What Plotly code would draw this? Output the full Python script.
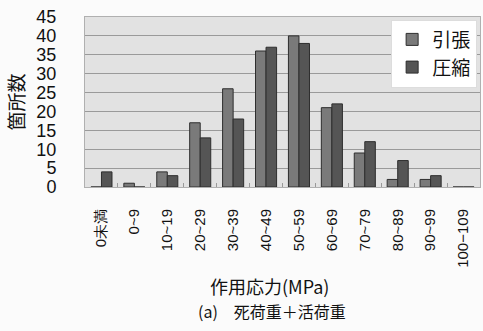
import plotly.graph_objects as go

categories = ["0未満", "0~9", "10~19", "20~29", "30~39", "40~49", "50~59",
              "60~69", "70~79", "80~89", "90~99", "100−109"]
tension = [0, 1, 4, 17, 26, 36, 40, 21, 9, 2, 2, 0]
compression = [4, 0, 3, 13, 18, 37, 38, 22, 12, 7, 3, 0]
y_ticks = [0, 5, 10, 15, 20, 25, 30, 35, 40, 45]

JP = "Noto Sans CJK JP"
NUM = "Liberation Sans Narrow, Liberation Sans"

fig = go.Figure()
fig.add_trace(go.Bar(name="引張", x=categories, y=tension,
                     marker=dict(color="#7a7a7a", line=dict(color="#2e2e2e", width=1))))
fig.add_trace(go.Bar(name="圧縮", x=categories, y=compression,
                     marker=dict(color="#555555", line=dict(color="#2e2e2e", width=1))))

fig.update_layout(
    width=483, height=331,
    margin=dict(l=85, r=3, t=17, b=144),
    paper_bgcolor="#fbfbfb",
    plot_bgcolor="#e2e2e2",
    barmode="group",
    bargap=0.36,
    bargroupgap=0,
    showlegend=True,
    legend=dict(x=0.775, y=0.985, xanchor="left", yanchor="top",
                bgcolor="#ffffff", bordercolor="#dddddd", borderwidth=1,
                font=dict(family=JP, size=19, color="#111111"),
                itemwidth=30, tracegroupgap=0),
    font=dict(family=JP, color="#111111"),
)
fig.update_yaxes(range=[0, 45], tickvals=y_ticks, showgrid=True, automargin=False,
                 gridcolor="#9a9a9a", gridwidth=1,
                 tickfont=dict(family=NUM, size=18, color="#111111"),
                 ticklabelstandoff=24,
                 showline=True, linecolor="#b0b0b0", mirror=True, zeroline=False,
                 title=dict(text="箇所数", font=dict(family=JP, size=19, color="#111111"),
                            standoff=6))
fig.update_xaxes(tickangle=-90, automargin=False,
                 tickfont=dict(family=NUM, size=15, color="#111111"),
                 ticks="inside", tickson="boundaries", ticklen=4, tickcolor="#999999",
                 ticklabelstandoff=15,
                 showline=True, linecolor="#b0b0b0", mirror=True)

fig.add_annotation(text="作用応力(MPa)", xref="paper", yref="paper",
                   x=0.466, y=-0.582, xanchor="center", yanchor="middle", showarrow=False,
                   font=dict(family=JP, size=18, color="#111111"))
fig.add_annotation(text="(a)　死荷重＋活荷重", xref="paper", yref="paper",
                   x=0.473, y=-0.729, xanchor="center", yanchor="middle", showarrow=False,
                   font=dict(family=JP, size=16, color="#111111"))

fig.write_html("out.html", config={"displayModeBar": False},
               post_script="document.body.style.margin='0';document.body.style.padding='0';")
